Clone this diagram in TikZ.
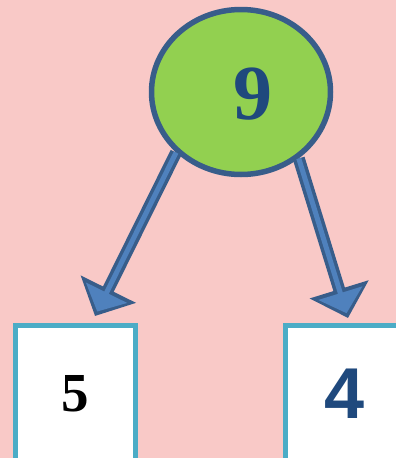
\documentclass[tikz,border=0pt]{standalone}
\usepackage{fontspec}
\setmainfont{Liberation Serif}
\newfontfamily\digitsans{Liberation Sans}
\usetikzlibrary{arrows.meta, shapes.geometric}

\definecolor{bgpink}{RGB}{249,201,199}
\definecolor{leafgreen}{RGB}{146,208,80}
\definecolor{rimblue}{RGB}{56,93,138}
\definecolor{shaftblue}{RGB}{79,129,189}
\definecolor{boxcyan}{RGB}{75,172,198}
\definecolor{inkblue}{RGB}{31,73,125}

\begin{document}
\begin{tikzpicture}[x=1pt, y=-1pt,
    sumnode/.style={ellipse, draw=rimblue, line width=5.5pt, fill=leafgreen, minimum width=179pt, minimum height=165pt, inner sep=0pt},
    partbox/.style={rectangle, draw=boxcyan, line width=5pt, fill=white, minimum width=120pt, minimum height=137pt, inner sep=0pt},
    shaftout/.style={rimblue, line width=12pt, -{Triangle[width=60pt,length=30pt]}},
    shaftin/.style={shaftblue, line width=5pt, shorten >=5pt, -{Triangle[width=45pt,length=21pt]}}]
    \useasboundingbox (0,0) rectangle (396,458);
    \fill[bgpink] (0,0) rectangle (396,458);
    \clip (0,0) rectangle (396,458);
    \node[sumnode, label={[xshift=12pt, yshift=-2pt, text=inkblue, font=\fontsize{78}{78}\selectfont\bfseries]center:9}] (nine) at (241,92) {};
    \node[partbox, font=\fontsize{55}{55}\selectfont\bfseries] (five) at (75.5,394) {5};
    \node[partbox, text=inkblue, font=\fontsize{72}{72}\selectfont\digitsans\bfseries] (four) at (345,394) {4};
    \coordinate (ltip) at (95,316);
    \coordinate (rtip) at (348,318);
    \draw[shaftout] (nine.223) -- (ltip);
    \draw[shaftin] (nine.223) -- (ltip);
    \draw[shaftout] (nine.311) -- (rtip);
    \draw[shaftin] (nine.311) -- (rtip);
\end{tikzpicture}
\end{document}
